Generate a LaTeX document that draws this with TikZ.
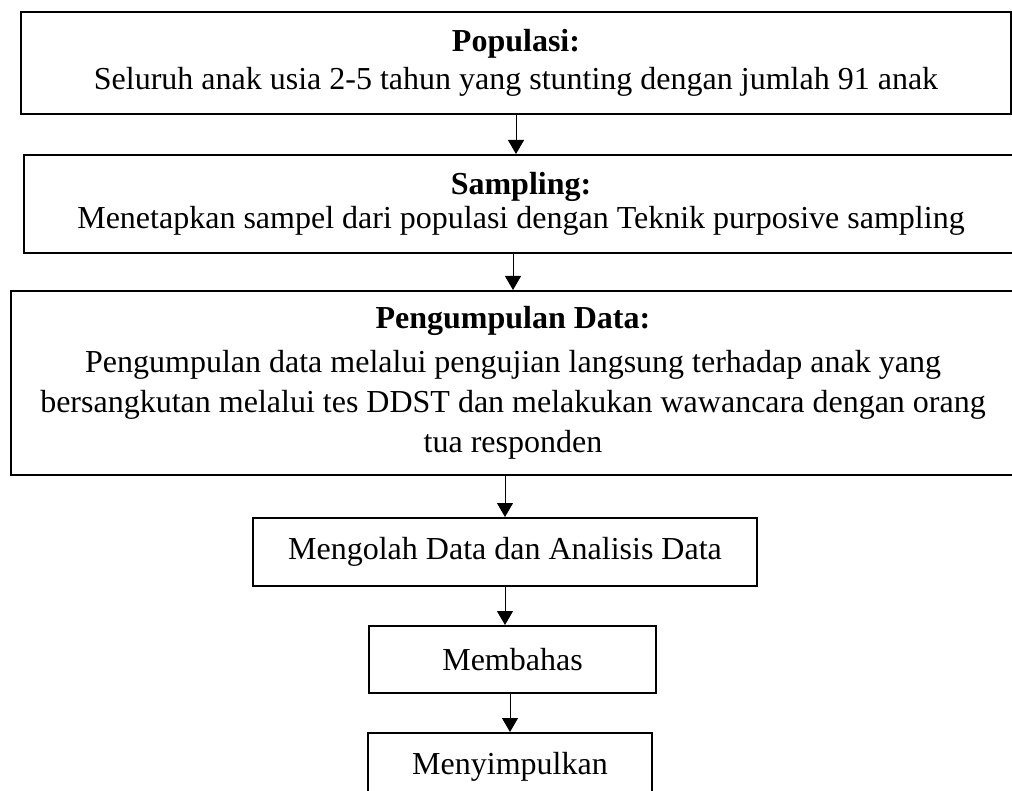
\documentclass[tikz,border=0pt]{standalone}
\usepackage{fontspec}
\setmainfont{Liberation Serif}
\usetikzlibrary{arrows.meta}

\tikzset{
  kotak/.style={draw,line width=0.8pt,inner sep=0pt,align=center,
    font=\fontsize{12.8}{16}\selectfont},
  panah/.style={line width=0.4pt,-{Triangle[width=6.4pt,length=5.6pt]}}
}

\begin{document}
\begin{tikzpicture}[x=0.4pt,y=-0.4pt]
       \useasboundingbox (0,0) rectangle (1012,791);
       \clip (0,0) rectangle (1012,791);
       \node[kotak,minimum width=396pt,minimum height=40.8pt] (pop) at (516,63)
         {\textbf{Populasi:}\\[-1pt]
          Seluruh anak usia 2-5 tahun yang stunting dengan jumlah 91 anak};
       \node[kotak,minimum width=397.6pt,minimum height=39.2pt] (samp) at (521,204)
         {\textbf{Sampling:}\\[-2.4pt]
          Menetapkan sampel dari populasi dengan Teknik purposive sampling};
       \node[kotak,minimum width=401.6pt,minimum height=73.6pt] (kumpul) at (513,383)
         {\textbf{Pengumpulan Data:}\\[1.6pt]
          Pengumpulan data melalui pengujian langsung terhadap anak yang\\
          bersangkutan melalui tes DDST dan melakukan wawancara dengan orang\\
          tua responden};
       \node[kotak,minimum width=201.6pt,minimum height=27.2pt] (olah) at (505,552)
         {Mengolah Data dan Analisis Data};
       \node[kotak,minimum width=114.8pt,minimum height=26.8pt] (bahas) at (512.5,659.5)
         {Membahas};
       \node[kotak,minimum width=113.6pt,minimum height=26.8pt] (simpul) at (510,766.5)
         {Menyimpulkan};
       \draw[panah] (pop.south) -- (pop.south |- samp.north);
       \draw[panah] (samp.south -| kumpul.north) -- (kumpul.north);
       \draw[panah] (kumpul.south -| olah.north) -- (olah.north);
       \draw[panah] (olah.south) -- (olah.south |- bahas.north);
       \draw[panah] (bahas.south -| simpul.north) -- (simpul.north);
     \end{tikzpicture}
\end{document}
